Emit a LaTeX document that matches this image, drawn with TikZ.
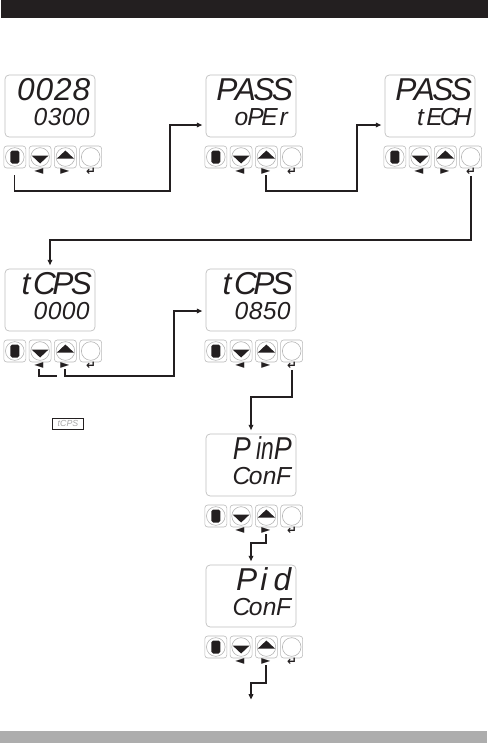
\documentclass[tikz,border=0pt]{standalone}
\usepackage{fontspec}
\usetikzlibrary{arrows.meta}
\newfontfamily\segfont{Liberation Sans}
\newfontfamily\keyfont{DejaVu Sans}
\definecolor{ink}{HTML}{231F20}
\definecolor{bargray}{HTML}{ADADAD}

\makeatletter
% one character per display cell
\newcommand\segcells[2]{\@tfor\segch:=#2\do{\makebox[#1][c]{\segch}}}
\makeatother

% display + key row: name, x, y of display top, upper text, lower text
\newcommand\ctrlpanel[5]{%
  \node[display] (#1-d) at (#2+48,#3+31) {};
  \node[seghi] (#1-hi) at (#2+89,#3+25) {#4};
  \node[seglo] (#1-lo) at (#2+88,#3+50) {\segcells{12pt}{#5}};
  \foreach \k in {1,...,4}
    \node[key] (#1-b\k) at (#2+12.8+25.3*\k-25.3,#3+82) {};
  \fill[ink, rounded corners=1.5pt] ([shift={(-4.5,-6.5)}]#1-b1.center) rectangle ([shift={(4.5,6.5)}]#1-b1.center);
  \fill[ink, shift={(#1-b2.center)}] (-8.5,-1.5) -- (8.5,-1.5) -- (0,6.5) -- cycle;
  \fill[ink, shift={(#1-b3.center)}] (-8.5,1.5) -- (8.5,1.5) -- (0,-6.5) -- cycle;
  \node[sym] (#1-l) at (#2+37,#3+97) {◄};
  \node[sym] (#1-r) at (#2+63,#3+97) {►};
  \node[sym] (#1-e) at (#2+89,#3+97) {↵};
}

\begin{document}
\begin{tikzpicture}[
    x=0.03cm, y=-0.03cm,
    display/.style={draw=gray!50, line width=0.6pt, rounded corners=3.5pt, minimum width=2.7cm, minimum height=1.86cm, inner sep=0},
    seghi/.style={anchor=base east, inner sep=0, text=ink, font=\segfont\itshape\fontsize{27}{27}\selectfont},
    seglo/.style={anchor=base east, inner sep=0, text=ink, font=\segfont\itshape\fontsize{21}{21}\selectfont},
    key/.style={draw=gray!55, line width=0.5pt, rounded corners=2.5pt, minimum size=0.66cm, inner sep=0,
        path picture={\draw[gray!60, line width=0.5pt] (path picture bounding box.center) circle (0.28cm);}},
    sym/.style={inner sep=0pt, text=ink, font=\keyfont\bfseries\fontsize{10}{10}\selectfont},
    wire/.style={draw=ink, line width=0.9pt},
    flow/.style={wire, -{Triangle[length=4.5pt,width=4pt]}, shorten >=3pt}
]
\useasboundingbox (0,0) rectangle (488,743);
\fill[ink] (1,0) rectangle (488,18);
\fill[bargray] (0,731) rectangle (487,743);

\ctrlpanel{p1}{2}{75}{\segcells{15.8pt}{0028}}{0300}
\ctrlpanel{p2}{203}{75}{\segcells{15.8pt}{PASS}}{oPEr}
\ctrlpanel{p3}{382}{75}{\segcells{15.8pt}{PASS}}{tECH}
\ctrlpanel{p4}{2}{269}{\segcells{15.8pt}{tCPS}}{0000}
\ctrlpanel{p5}{203}{269}{\segcells{15.8pt}{tCPS}}{0850}
\ctrlpanel{p6}{203}{434}{\makebox[15.8pt]{}\makebox[15.8pt][l]{\scalebox{0.85}[1]{P}}\hspace{4pt}\scalebox{0.72}[1]{in}\scalebox{0.85}[1]{P}}{ConF}
\ctrlpanel{p7}{203}{565}{\makebox[15.8pt]{}\makebox[15.8pt][l]{P}\segcells{15.8pt}{id}}{ConF}

\node[draw=ink, line width=0.6pt, inner sep=0.5pt, minimum width=27pt, minimum height=9.4pt, text=gray!70,
    font=\segfont\itshape\fontsize{7.5}{7.5}\selectfont] (tag) at (68,423.5) {tCPS};

\draw[flow, shorten <=6pt] (p1-b1.south) |- (170,191) -- (170,125) -- (p2-d.west |- 0,125);
\draw[flow] (p2-r.south) |- (357,191) -- (357,125) -- (p3-d.west |- 0,125);
\draw[flow] (p3-e.south) |- (p4-d.north |- 0,240) -- (p4-d.north);

\draw[wire] (p4-l.south) |- (57,376);
\draw[flow] (p4-r.south) |- (174,376) -- (174,311) -- (p5-d.west |- 0,311);
\draw[flow] (p5-e.south) |- (p6-d.north |- 0,397) -- (p6-d.north);
\draw[flow] (p6-r.south) |- (p7-d.north |- 0,543) -- (p7-d.north);
\coordinate (next) at (251,703);
\draw[flow] (p7-r.south) |- (next |- 0,683) -- (next);
\end{tikzpicture}
\end{document}
